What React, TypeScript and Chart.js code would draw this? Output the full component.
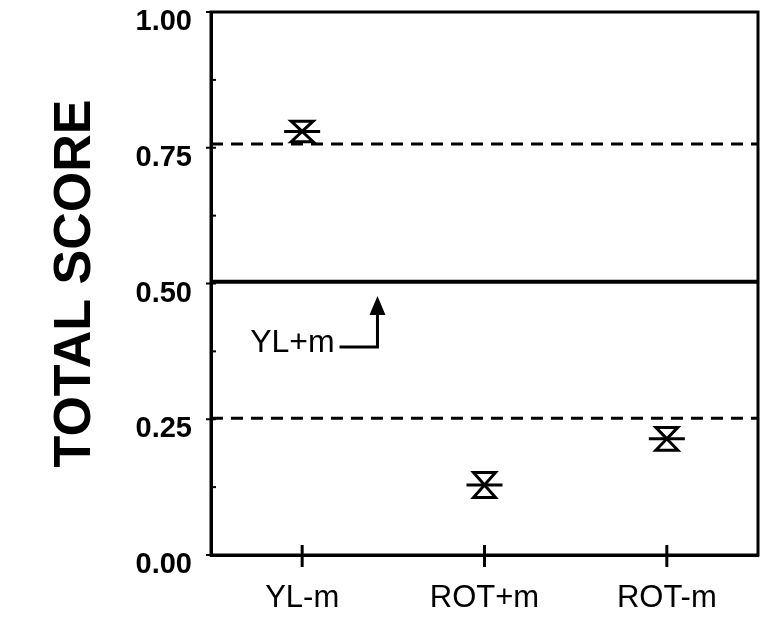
import React, { useEffect, useRef } from 'react';
import { Chart, registerables } from 'chart.js';

Chart.register(...registerables);

// ---- data ----
const categories = ['YL-m', 'ROT+m', 'ROT-m'];
const categoryPositions = [0.5, 1.5, 2.5];
const meanScores = [0.78, 0.129, 0.214];
const scoreErrors = [0.019, 0.023, 0.021];
const yTickValues = [0, 0.25, 0.5, 0.75, 1.0];
const yMinorTickValues = [0.125, 0.375, 0.625, 0.875];
const upperDashedLevel = 0.757;
const lowerDashedLevel = 0.252;
const referenceLevel = 0.503;
const annotationLabel = 'YL+m';
const annotationTextX = 0.678;
const annotationTextY = 0.39;
const annotationTailX = 0.705;
const annotationArrowX = 0.913;
const annotationElbowY = 0.383;
const annotationArrowTip = 0.477;

const FONT = '"Liberation Sans", Arial, Helvetica, sans-serif';

const decorPlugin = {
  id: 'decor',
  afterDatasetsDraw(chart: any) {
    const { ctx, chartArea: a, scales } = chart;
    const x = scales.x;
    const y = scales.y;
    ctx.save();
    ctx.strokeStyle = '#000';
    ctx.fillStyle = '#000';
    ctx.lineWidth = 3;
    ctx.lineCap = 'butt';
    // frame
    ctx.strokeRect(a.left, a.top, a.right - a.left, a.bottom - a.top);
    // y ticks
    ctx.lineWidth = 2;
    yTickValues.forEach((v) => {
      const py = y.getPixelForValue(v);
      ctx.beginPath();
      ctx.moveTo(a.left - 5, py);
      ctx.lineTo(a.left + 5, py);
      ctx.stroke();
    });
    yMinorTickValues.forEach((v) => {
      const py = y.getPixelForValue(v);
      ctx.beginPath();
      ctx.moveTo(a.left, py);
      ctx.lineTo(a.left + 5, py);
      ctx.stroke();
    });
    // x ticks
    ctx.lineWidth = 3;
    categoryPositions.forEach((v) => {
      const px = x.getPixelForValue(v);
      ctx.beginPath();
      ctx.moveTo(px, a.bottom - 10);
      ctx.lineTo(px, a.bottom + 12);
      ctx.stroke();
    });
    // hourglass error markers
    ctx.lineWidth = 3;
    ctx.lineJoin = 'miter';
    categoryPositions.forEach((cx, i) => {
      const px = x.getPixelForValue(cx);
      const pm = y.getPixelForValue(meanScores[i]);
      const pt = y.getPixelForValue(meanScores[i] + scoreErrors[i]);
      const pb = y.getPixelForValue(meanScores[i] - scoreErrors[i]);
      const hw = 11;
      ctx.beginPath();
      ctx.moveTo(px - hw, pt);
      ctx.lineTo(px + hw, pt);
      ctx.lineTo(px, pm);
      ctx.closePath();
      ctx.moveTo(px - hw, pb);
      ctx.lineTo(px + hw, pb);
      ctx.lineTo(px, pm);
      ctx.closePath();
      ctx.stroke();
    });
    // annotation
    const tx = x.getPixelForValue(annotationTextX);
    const ty = y.getPixelForValue(annotationTextY);
    ctx.font = `32px ${FONT}`;
    ctx.textAlign = 'right';
    ctx.textBaseline = 'middle';
    ctx.fillText(annotationLabel, tx, ty);
    const tailX = x.getPixelForValue(annotationTailX);
    const arrX = x.getPixelForValue(annotationArrowX);
    const elbY = y.getPixelForValue(annotationElbowY);
    const tipY = y.getPixelForValue(annotationArrowTip);
    ctx.lineWidth = 3;
    ctx.beginPath();
    ctx.moveTo(tailX, elbY);
    ctx.lineTo(arrX, elbY);
    ctx.lineTo(arrX, tipY + 12);
    ctx.stroke();
    ctx.beginPath();
    ctx.moveTo(arrX, tipY);
    ctx.lineTo(arrX - 8, tipY + 19);
    ctx.lineTo(arrX + 8, tipY + 19);
    ctx.closePath();
    ctx.fill();
    ctx.restore();
  },
};

export default function App() {
  const ref = useRef<HTMLCanvasElement | null>(null);

  useEffect(() => {
    if (!ref.current) return;
    const lineData = (lvl: number) => [
      { x: 0, y: lvl },
      { x: 3, y: lvl },
    ];
    const chart = new Chart(ref.current, {
      type: 'scatter',
      data: {
        datasets: [
          {
            type: 'line',
            data: lineData(upperDashedLevel),
            borderColor: '#000',
            borderWidth: 3,
            borderDash: [12, 8],
            pointRadius: 0,
          },
          {
            type: 'line',
            data: lineData(lowerDashedLevel),
            borderColor: '#000',
            borderWidth: 3,
            borderDash: [12, 8],
            pointRadius: 0,
          },
          {
            type: 'line',
            data: lineData(referenceLevel),
            borderColor: '#000',
            borderWidth: 4,
            pointRadius: 0,
          },
          {
            type: 'scatter',
            data: categoryPositions.map((cx, i) => ({ x: cx, y: meanScores[i] })),
            pointStyle: 'line',
            pointRadius: 18,
            borderColor: '#000',
            borderWidth: 3,
          },
        ] as any,
      },
      options: {
        animation: false,
        responsive: false,
        events: [],
        layout: { autoPadding: false, padding: { top: 12, right: 4, left: 0, bottom: 0 } },
        plugins: { legend: { display: false }, tooltip: { enabled: false } },
        scales: {
          x: {
            type: 'linear',
            min: 0,
            max: 3,
            grid: { display: false, drawTicks: false },
            border: { display: true, color: '#000', width: 3 },
            afterBuildTicks: (s: any) => {
              s.ticks = categoryPositions.map((v) => ({ value: v }));
            },
            afterFit: (s: any) => {
              s.height = 63;
              s.paddingLeft = 0;
              s.paddingRight = 0;
            },
            ticks: {
              padding: 25,
              color: '#000',
              font: { family: FONT, size: 31 },
              maxRotation: 0,
              autoSkip: false,
              callback: (v: any) => {
                const i = categoryPositions.indexOf(Number(v));
                return i >= 0 ? categories[i] : '';
              },
            },
          },
          y: {
            type: 'linear',
            min: 0,
            max: 1,
            grid: { display: false, drawTicks: false },
            border: { display: true, color: '#000', width: 3 },
            afterBuildTicks: (s: any) => {
              s.ticks = yTickValues.map((v) => ({ value: v }));
            },
            afterFit: (s: any) => {
              s.width = 211;
              s.paddingTop = 0;
              s.paddingBottom = 0;
            },
            ticks: {
              padding: 19,
              labelOffset: 10,
              color: '#000',
              font: { family: FONT, size: 29, weight: 'bold' },
              autoSkip: false,
              callback: (v: any) => Number(v).toFixed(2),
            },
            title: {
              display: true,
              text: 'TOTAL SCORE',
              color: '#000',
              font: { family: FONT, size: 52, weight: 'bold' },
              padding: { top: 44, bottom: 0 },
            },
          },
        },
      } as any,
      plugins: [decorPlugin],
    });
    return () => chart.destroy();
  }, []);

  return (
    <div style={{ position: 'absolute', left: 0, top: 0, width: 762, height: 618, background: '#fff' }}>
      <canvas ref={ref} width={762} height={618} style={{ width: 762, height: 618, display: 'block' }} />
    </div>
  );
}
